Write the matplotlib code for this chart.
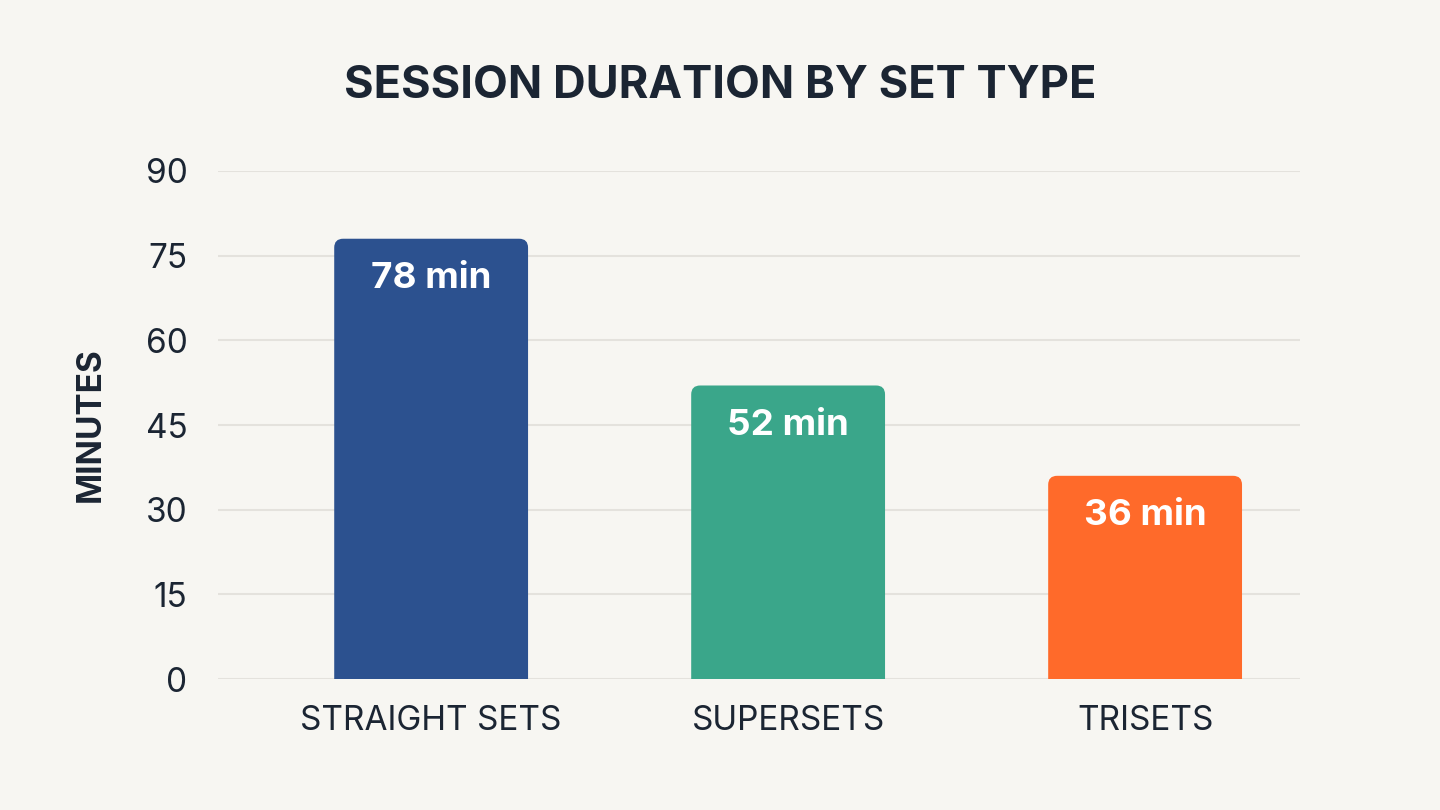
import matplotlib.pyplot as plt
from matplotlib.patches import FancyBboxPatch

# Data
categories = ['STRAIGHT SETS', 'SUPERSETS', 'TRISETS']
minutes = [78, 52, 36]
bar_labels = ['78 min', '52 min', '36 min']
colors = ['#2c518f', '#3aa68a', '#ff6a2a']
yticks = [0, 15, 30, 45, 60, 75, 90]

bg = '#f7f6f2'
ink = '#1b2533'

plt.rcParams['font.family'] = ['Inter', 'DejaVu Sans']

fig = plt.figure(figsize=(14.4, 8.1), dpi=100, facecolor=bg)
ax = fig.add_axes([0.1514, 0.1617, 0.7514, 0.6272], facecolor=bg)

x = range(len(categories))
bars = ax.bar(x, minutes, width=0.543, color=colors, zorder=3)

ax.set_xlim(-0.597, 2.434)
ax.set_ylim(0, 90)

# swap the plain bars for ones with rounded tops (bottom corners fall below 0 and get clipped)
pix_per_x = 1082 / (2.434 + 0.597)
pix_per_y = 508 / 90
aspect = pix_per_x / pix_per_y
rx = 0.025
ry = rx * aspect
for b, c in zip(bars, colors):
    b.set_visible(False)
    bx, by, bw, bh = b.get_x(), b.get_y(), b.get_width(), b.get_height()
    p = FancyBboxPatch((bx + rx, by - ry), bw - 2 * rx, bh,
                       boxstyle=f'round,pad={rx}', mutation_aspect=aspect,
                       facecolor=c, edgecolor='none', zorder=3)
    ax.add_patch(p)

for xi, v, lab in zip(x, minutes, bar_labels):
    ax.annotate(lab, (xi, v), xytext=(0, -40), textcoords='offset pixels',
                ha='center', va='center', color='white', fontsize=26.5, fontweight='bold', zorder=4)

ax.set_yticks(yticks)
ax.set_xticks(list(x))
ax.set_xticklabels(categories)
ax.tick_params(axis='y', length=0, pad=22, labelsize=24, labelcolor=ink)
ax.tick_params(axis='x', length=0, pad=19, labelsize=24, labelcolor=ink)
ax.grid(axis='y', color='#e4e2dd', linewidth=1.5, zorder=0)
for s in ax.spines.values():
    s.set_visible(False)

ax.set_ylabel('MINUTES', fontsize=24, fontweight='bold', color=ink, labelpad=28)
fig.text(0.5, 0.894, 'SESSION DURATION BY SET TYPE', ha='center', va='center',
         fontsize=32.5, fontweight='bold', color=ink)

fig.savefig('out.png', dpi=100, facecolor=bg)
